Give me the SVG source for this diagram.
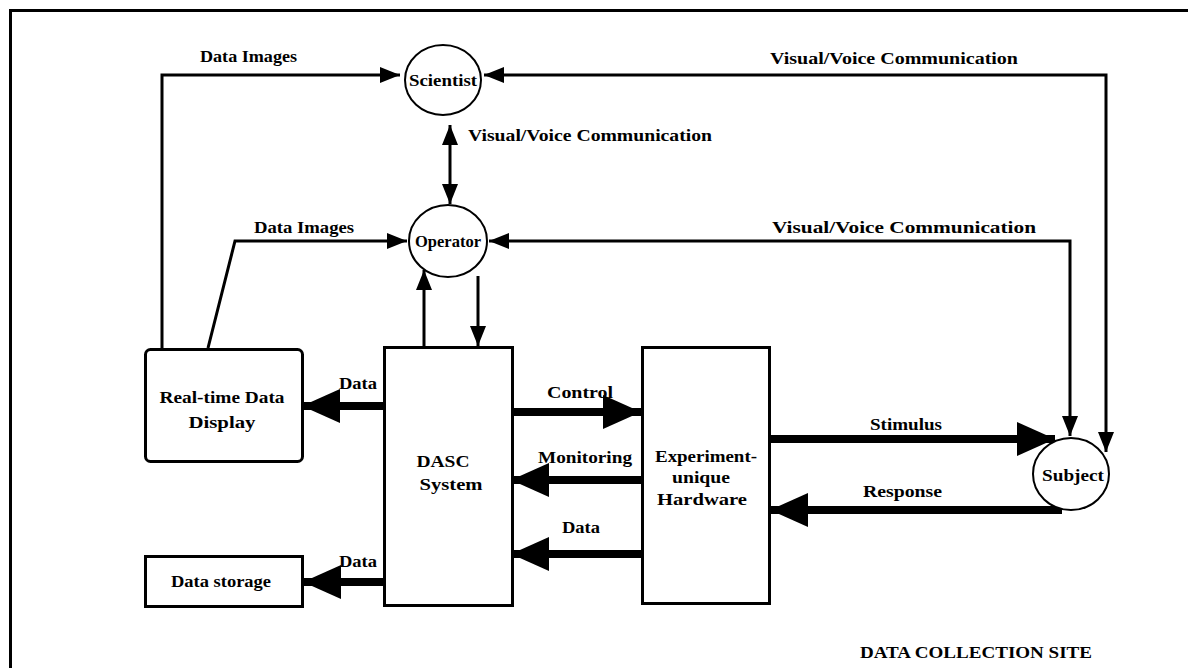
<svg xmlns="http://www.w3.org/2000/svg" width="1188" height="668" viewBox="0 0 1188 668">
<style>
text{font-family:"Liberation Serif","Times New Roman",serif;font-weight:bold;font-size:16px;fill:#000}
.box{fill:#fff;stroke:#000;stroke-width:3}
.circ{fill:#fff;stroke:#000;stroke-width:2}
.thin{fill:none;stroke:#000;stroke-width:3}
.thick{fill:none;stroke:#000;stroke-width:8}
.mid{text-anchor:middle}
</style>
<defs>
<marker id="ahs" markerUnits="userSpaceOnUse" markerWidth="22" markerHeight="16" refX="20" refY="8" orient="auto-start-reverse"><path d="M0,0 L20,8 L0,16 z" fill="#000"/></marker>
<marker id="ahb" markerUnits="userSpaceOnUse" markerWidth="40" markerHeight="34" refX="38" refY="17" orient="auto"><path d="M0,0 L38,17 L0,34 z" fill="#000"/></marker>
</defs>
<rect x="10.5" y="10.5" width="1300" height="800" fill="#fff" stroke="#000" stroke-width="3"/>

<g id="connectors">
<polyline class="thin" points="162,348 162,75 400,75" marker-end="url(#ahs)"/>
<polyline class="thin" points="484,75 1106,75 1106,452" marker-start="url(#ahs)" marker-end="url(#ahs)"/>
<line class="thin" x1="450" y1="125" x2="450" y2="204" marker-start="url(#ahs)" marker-end="url(#ahs)"/>
<polyline class="thin" points="208,348 235,241 407,241" marker-end="url(#ahs)"/>
<polyline class="thin" points="489,241 1070,241 1070,436" marker-start="url(#ahs)" marker-end="url(#ahs)"/>
<line class="thin" x1="424" y1="347" x2="424" y2="270" marker-end="url(#ahs)"/>
<line class="thin" x1="478" y1="276" x2="478" y2="346" marker-end="url(#ahs)"/>
<line class="thick" x1="384" y1="406" x2="302" y2="406" marker-end="url(#ahb)"/>
<line class="thick" x1="384" y1="582" x2="303" y2="582" marker-end="url(#ahb)"/>
<line class="thick" x1="512" y1="412" x2="641" y2="412" marker-end="url(#ahb)"/>
<line class="thick" x1="642" y1="480" x2="511" y2="480" marker-end="url(#ahb)"/>
<line class="thick" x1="642" y1="554" x2="511" y2="554" marker-end="url(#ahb)"/>
<line class="thick" x1="769" y1="439" x2="1055" y2="439" marker-end="url(#ahb)"/>
<line class="thick" x1="1062" y1="510" x2="770" y2="510" marker-end="url(#ahb)"/>
<text x="200" y="62" textLength="97" lengthAdjust="spacingAndGlyphs">Data Images</text>
<text x="770" y="64" textLength="248" lengthAdjust="spacingAndGlyphs">Visual/Voice Communication</text>
<text x="468" y="141" textLength="244" lengthAdjust="spacingAndGlyphs">Visual/Voice Communication</text>
<text x="254" y="233" textLength="100" lengthAdjust="spacingAndGlyphs">Data Images</text>
<text x="772" y="233" textLength="264" lengthAdjust="spacingAndGlyphs">Visual/Voice Communication</text>
<text x="339" y="389" textLength="38" lengthAdjust="spacingAndGlyphs">Data</text>
<text x="339" y="567" textLength="38" lengthAdjust="spacingAndGlyphs">Data</text>
<text x="547" y="398" textLength="66" lengthAdjust="spacingAndGlyphs">Control</text>
<text x="538" y="463" textLength="94" lengthAdjust="spacingAndGlyphs">Monitoring</text>
<text x="562" y="533" textLength="38" lengthAdjust="spacingAndGlyphs">Data</text>
<text x="870" y="430" textLength="72" lengthAdjust="spacingAndGlyphs">Stimulus</text>
<text x="863" y="497" textLength="79" lengthAdjust="spacingAndGlyphs">Response</text>
</g>

<g id="scientist">
<ellipse class="circ" cx="443" cy="80" rx="38" ry="35"/>
<text class="mid" x="443" y="86" textLength="68" lengthAdjust="spacingAndGlyphs">Scientist</text>
</g>
<g id="operator">
<ellipse class="circ" cx="448" cy="241" rx="39" ry="36"/>
<text class="mid" x="448" y="247" textLength="66" lengthAdjust="spacingAndGlyphs">Operator</text>
</g>
<g id="realtime-display">
<rect class="box" x="145.5" y="349.5" width="157" height="112" rx="5"/>
<text class="mid" x="222" y="403" textLength="125" lengthAdjust="spacingAndGlyphs">Real-time Data</text>
<text class="mid" x="222" y="428" textLength="67" lengthAdjust="spacingAndGlyphs">Display</text>
</g>
<g id="data-storage">
<rect class="box" x="145.5" y="556.5" width="157" height="50"/>
<text class="mid" x="221" y="587" textLength="100" lengthAdjust="spacingAndGlyphs">Data storage</text>
</g>
<g id="dasc">
<rect class="box" x="384.5" y="347.5" width="128" height="258"/>
<text class="mid" x="443" y="467" textLength="53" lengthAdjust="spacingAndGlyphs">DASC</text>
<text class="mid" x="451" y="490" textLength="63" lengthAdjust="spacingAndGlyphs">System</text>
</g>
<g id="hardware">
<rect class="box" x="642.5" y="347.5" width="127" height="256"/>
<text class="mid" x="706" y="462" textLength="102" lengthAdjust="spacingAndGlyphs">Experiment-</text>
<text class="mid" x="701" y="483" textLength="58" lengthAdjust="spacingAndGlyphs">unique</text>
<text class="mid" x="702" y="505" textLength="90" lengthAdjust="spacingAndGlyphs">Hardware</text>
</g>
<g id="subject">
<ellipse class="circ" cx="1071" cy="474" rx="38" ry="36"/>
<text class="mid" x="1073" y="481" textLength="62" lengthAdjust="spacingAndGlyphs">Subject</text>
</g>
<text x="860" y="658" textLength="232" lengthAdjust="spacingAndGlyphs">DATA COLLECTION SITE</text>
</svg>
